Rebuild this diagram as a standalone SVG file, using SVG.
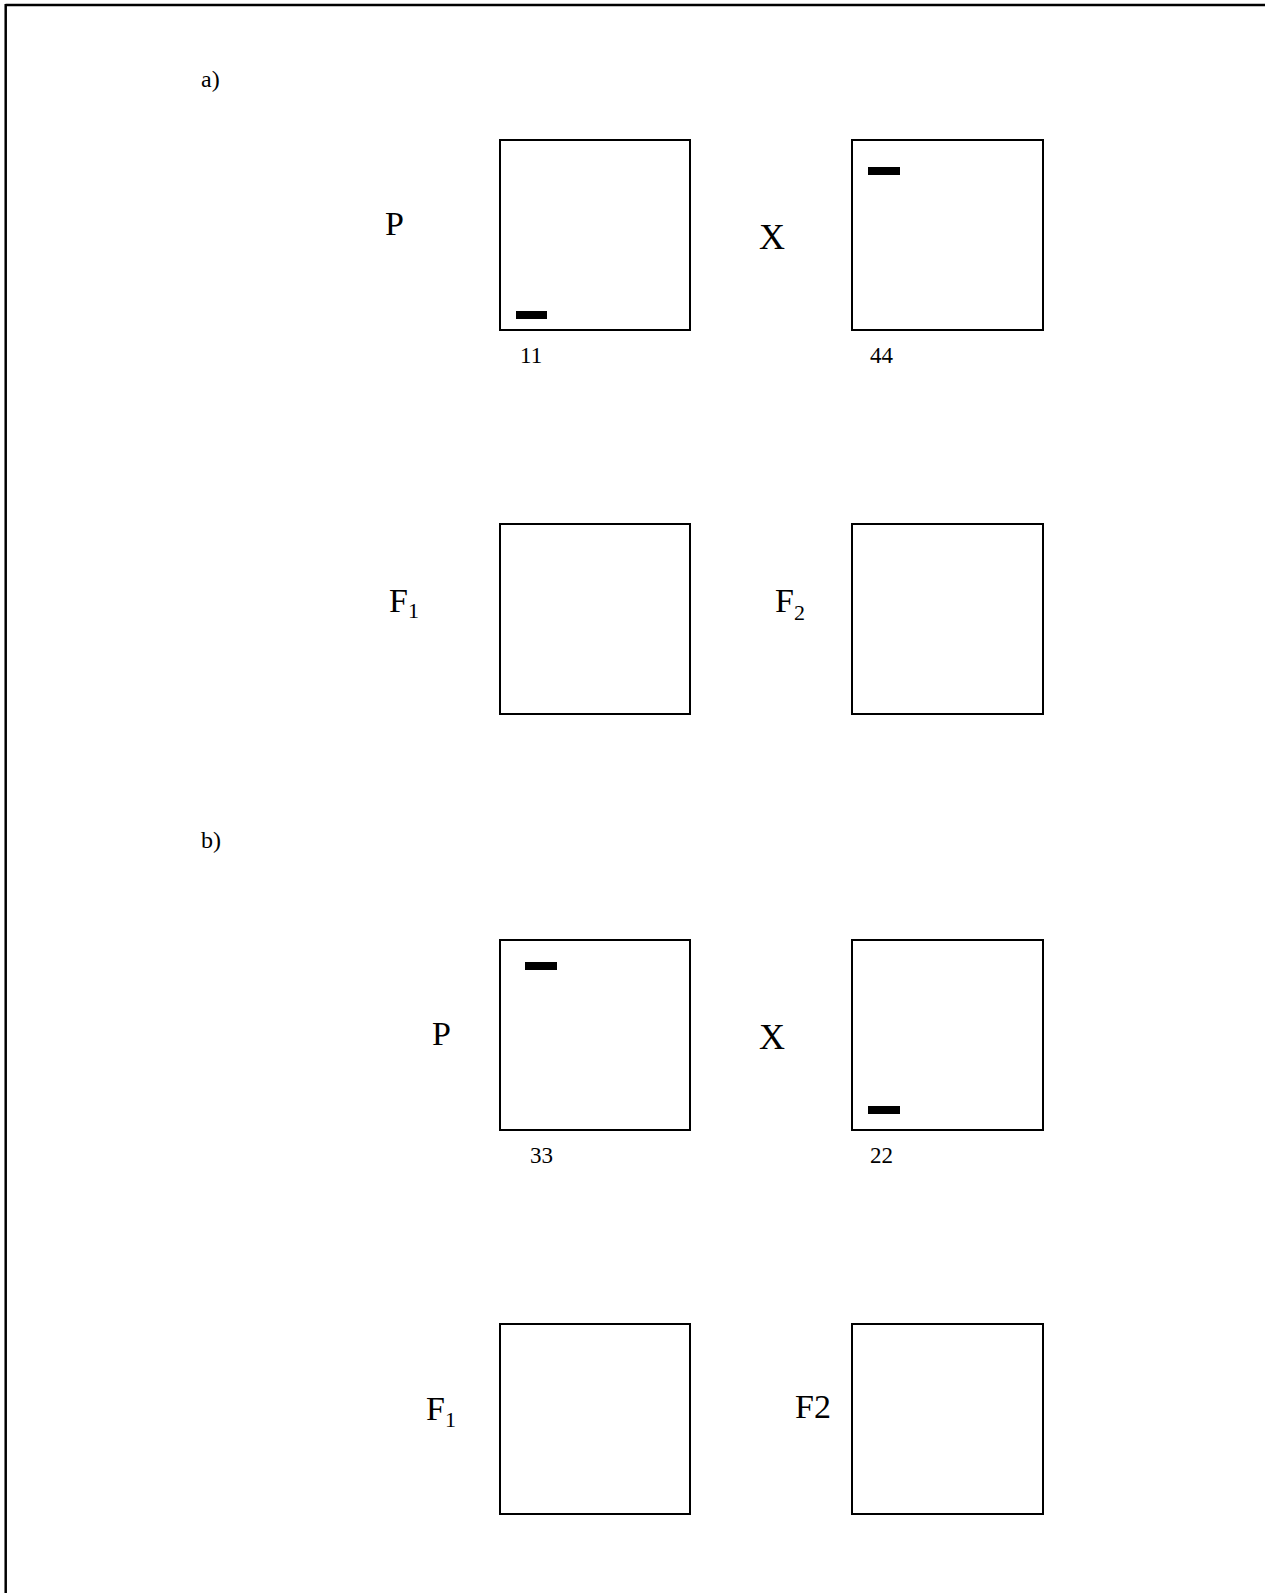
<svg xmlns="http://www.w3.org/2000/svg" width="1265" height="1593" viewBox="0 0 1265 1593">
<style>
.box{fill:none;stroke:#000;stroke-width:2}
.bar{fill:#000}
.serif{font-family:"Liberation Serif","Times New Roman",serif;fill:#000}
.lbl{font-size:34px}
.sub{font-size:22px}
.num{font-size:23px}
.sec{font-size:24px}
</style>
<rect width="1265" height="1593" fill="#fff"/>
<g id="frame">
<line x1="5.5" y1="5" x2="1265" y2="5" stroke="#000" stroke-width="2.5"/>
<line x1="5.7" y1="4" x2="5.7" y2="1593" stroke="#000" stroke-width="2.5"/>
</g>
<g id="label-a"><text class="serif sec" x="201" y="87">a)</text></g>
<g id="a-P">
<text class="serif lbl" x="385" y="235">P</text>
<rect class="box" x="500" y="140" width="190" height="190"/>
<rect class="bar" x="516" y="311" width="31" height="8"/>
<text class="serif num" x="520" y="363">11</text>
</g>
<g id="a-X">
<text class="serif lbl" x="759" y="249" style="font-size:36px">X</text>
<rect class="box" x="852" y="140" width="191" height="190"/>
<rect class="bar" x="868" y="167" width="32" height="8"/>
<text class="serif num" x="870" y="363">44</text>
</g>
<g id="a-F1">
<text class="serif lbl" x="389" y="612">F<tspan class="sub" dy="6">1</tspan></text>
<rect class="box" x="500" y="524" width="190" height="190"/>
</g>
<g id="a-F2">
<text class="serif lbl" x="775" y="612">F<tspan class="sub" dy="8">2</tspan></text>
<rect class="box" x="852" y="524" width="191" height="190"/>
</g>
<g id="label-b"><text class="serif sec" x="201" y="848">b)</text></g>
<g id="b-P">
<text class="serif lbl" x="432" y="1045">P</text>
<rect class="box" x="500" y="940" width="190" height="190"/>
<rect class="bar" x="525" y="962" width="32" height="8"/>
<text class="serif num" x="530" y="1163">33</text>
</g>
<g id="b-X">
<text class="serif lbl" x="759" y="1049" style="font-size:36px">X</text>
<rect class="box" x="852" y="940" width="191" height="190"/>
<rect class="bar" x="868" y="1106" width="32" height="8"/>
<text class="serif num" x="870" y="1163">22</text>
</g>
<g id="b-F1">
<text class="serif lbl" x="426" y="1420">F<tspan class="sub" dy="7">1</tspan></text>
<rect class="box" x="500" y="1324" width="190" height="190"/>
</g>
<g id="b-F2">
<text class="serif lbl" x="795" y="1418">F2</text>
<rect class="box" x="852" y="1324" width="191" height="190"/>
</g>
<g id="connectors"></g>
</svg>
